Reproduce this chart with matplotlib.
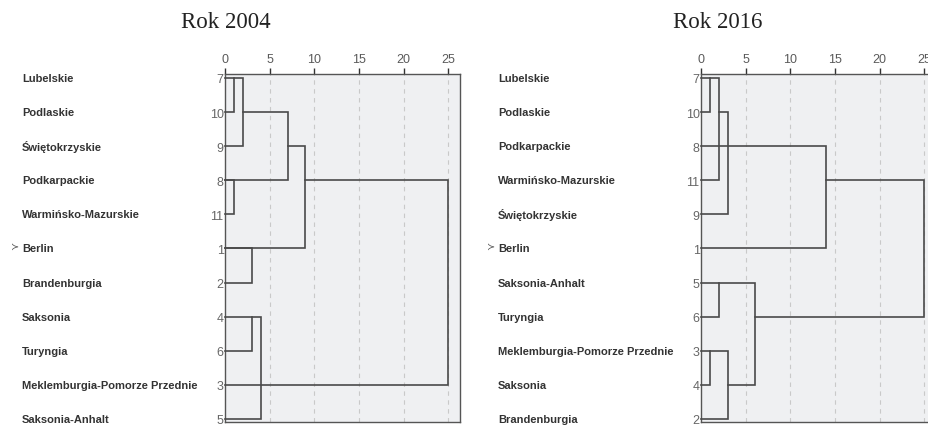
import matplotlib
matplotlib.use("Agg")
import matplotlib.pyplot as plt
import matplotlib.transforms as mtransforms

# ---- data ----
names_2004 = ["Lubelskie", "Podlaskie", "Świętokrzyskie", "Podkarpackie",
              "Warmińsko-Mazurskie", "Berlin", "Brandenburgia", "Saksonia",
              "Turyngia", "Meklemburgia-Pomorze Przednie", "Saksonia-Anhalt"]
ids_2004 = [7, 10, 9, 8, 11, 1, 2, 4, 6, 3, 5]
# (top row, bottom row, merge height, top branch start, bottom branch start)
links_2004 = [
    (0, 1, 1, 0, 0),
    (0, 2, 2, 1, 0),
    (1, 3, 7, 2, 0),
    (3, 4, 1, 0, 0),
    (2, 5, 9, 7, 0),
    (5, 6, 3, 0, 0),
    (3, 9, 25, 9, 0),
    (7, 8, 3, 0, 0),
    (7, 10, 4, 3, 0),
]

names_2016 = ["Lubelskie", "Podlaskie", "Podkarpackie", "Warmińsko-Mazurskie",
              "Świętokrzyskie", "Berlin", "Saksonia-Anhalt", "Turyngia",
              "Meklemburgia-Pomorze Przednie", "Saksonia", "Brandenburgia"]
ids_2016 = [7, 10, 8, 11, 9, 1, 5, 6, 3, 4, 2]
links_2016 = [
    (0, 1, 1, 0, 0),
    (0, 3, 2, 1, 0),
    (1, 4, 3, 2, 0),
    (2, 5, 14, 0, 0),
    (3, 7, 25, 14, 6),
    (6, 7, 2, 0, 0),
    (6, 9, 6, 2, 3),
    (8, 9, 1, 0, 0),
    (8, 10, 3, 1, 0),
]

xticks = [0, 5, 10, 15, 20, 25]
marked = "Berlin"

W, H = 929, 427
fig = plt.figure(figsize=(W / 100, H / 100), dpi=100)

LINE = "#4a4a4a"
BG = "#eff0f2"


def panel(left_px, name_px, title_px, title, names, ids, links):
    top, bottom = 74.5, 423
    width = 26.3 * 8.93
    ax = fig.add_axes([left_px / W, 1 - bottom / H, width / W, (bottom - top) / H])
    ax.set_facecolor(BG)
    ax.set_xlim(0, 26.3)
    ax.set_ylim(10.09, -0.13)
    for g in xticks[1:]:
        ax.axvline(g, color="#c9c9c9", lw=0.8, ls=(0, (4, 4)), zorder=1)
    for t, b, h, ts, bs in links:
        ax.plot([ts, h, h, bs], [t, t, b, b], color=LINE, lw=1.2,
                solid_joinstyle="miter", zorder=3, clip_on=False)
    ax.xaxis.tick_top()
    ax.set_xticks(xticks)
    ax.tick_params(axis="x", direction="out", length=4, width=1, color="#333333",
                   labelsize=9, labelcolor="#5a5a5a", pad=2)
    ax.set_yticks(range(len(ids)))
    ax.set_yticklabels([str(i) for i in ids])
    ax.tick_params(axis="y", length=0, labelsize=9, labelcolor="#666666", pad=1)
    for lab in ax.get_xticklabels() + ax.get_yticklabels():
        lab.set_family("Liberation Sans")
    for s in ax.spines.values():
        s.set_color("#555555")
        s.set_linewidth(1.0)
    trans = mtransforms.blended_transform_factory(fig.transFigure, ax.transData)
    for i, n in enumerate(names):
        ax.text(name_px / W, i, n, transform=trans, ha="left", va="center",
                fontsize=8, fontweight="bold", color="#333333",
                family="Liberation Sans")
        if n == marked:
            ax.text((name_px - 11) / W, i - 0.05, "≻", transform=trans,
                    ha="left", va="center", fontsize=7, color="#555555")
    fig.text(title_px / W, 1 - 22 / H, title, ha="center", va="center",
             fontsize=16.5, family="Liberation Serif", color="#222222")
    return ax


panel(225, 22, 226, "Rok 2004", names_2004, ids_2004, links_2004)
panel(701, 498, 718, "Rok 2016", names_2016, ids_2016, links_2016)

fig.savefig("out.png", dpi=100)
